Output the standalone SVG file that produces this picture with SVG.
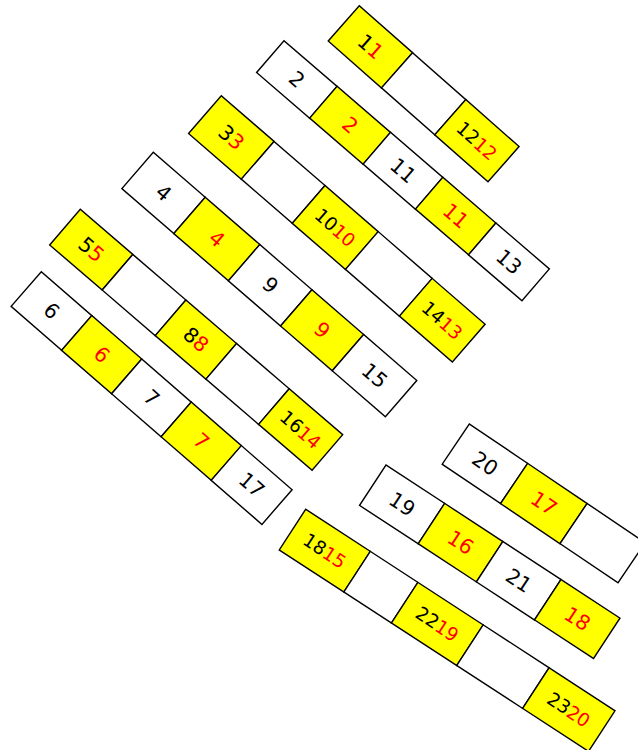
<svg xmlns="http://www.w3.org/2000/svg" width="638" height="750" viewBox="0 0 638 750">
<style>
.w{fill:#ffffff;stroke:#000000;stroke-width:1.4}
.y{fill:#ffff00;stroke:#000000;stroke-width:1.4}
.t{font-family:"DejaVu Sans",sans-serif;font-size:20.5px;text-anchor:middle;dominant-baseline:central;fill:#000000}
.s{font-size:18.5px}
.r{fill:#ff0000}
</style>
<rect width="638" height="750" fill="#ffffff"/>
<g id="strip-a" transform="translate(359.3 5.7) rotate(41.4)">
<g id="a1"><rect class="y" x="0" y="0" width="71" height="47"/><text class="t" x="35.5" y="23.5">1<tspan class="r">1</tspan></text></g>
<g id="a2"><rect class="w" x="71" y="0" width="71" height="47"/></g>
<g id="a3"><rect class="y" x="142" y="0" width="71" height="47"/><text class="t s" x="177.5" y="23.5">12<tspan class="r">12</tspan></text></g>
</g>
<g id="strip-b" transform="translate(284 40.7) rotate(40.7)">
<g id="b1"><rect class="w" x="0" y="0" width="70" height="42"/><text class="t" x="35" y="21">2</text></g>
<g id="b2"><rect class="y" x="70" y="0" width="70.5" height="42"/><text class="t r" x="105.25" y="21">2</text></g>
<g id="b3"><rect class="w" x="140.5" y="0" width="69" height="42"/><text class="t" x="175" y="21">11</text></g>
<g id="b4"><rect class="y" x="209.5" y="0" width="70" height="42"/><text class="t r" x="244.5" y="21">11</text></g>
<g id="b5"><rect class="w" x="279.5" y="0" width="70.5" height="42"/><text class="t" x="314.75" y="21">13</text></g>
</g>
<g id="strip-c" transform="translate(221.3 95.7) rotate(40.9)">
<g id="c1"><rect class="y" x="0" y="0" width="69.8" height="50"/><text class="t" x="34.9" y="25">3<tspan class="r">3</tspan></text></g>
<g id="c2"><rect class="w" x="69.8" y="0" width="67.4" height="50"/></g>
<g id="c3"><rect class="y" x="137.2" y="0" width="70.4" height="50"/><text class="t s" x="172.4" y="25">10<tspan class="r">10</tspan></text></g>
<g id="c4"><rect class="w" x="207.6" y="0" width="71.4" height="50"/></g>
<g id="c5"><rect class="y" x="279" y="0" width="70" height="50"/><text class="t s" x="314" y="25">14<tspan class="r">13</tspan></text></g>
</g>
<g id="strip-d" transform="translate(153.3 152.3) rotate(40.9)">
<g id="d1"><rect class="w" x="0" y="0" width="68.7" height="48"/><text class="t" x="34.35" y="24">4</text></g>
<g id="d2"><rect class="y" x="68.7" y="0" width="72.2" height="48"/><text class="t r" x="104.8" y="24">4</text></g>
<g id="d3"><rect class="w" x="140.9" y="0" width="69" height="48"/><text class="t" x="175.4" y="24">9</text></g>
<g id="d4"><rect class="y" x="209.9" y="0" width="68.4" height="48"/><text class="t r" x="244.1" y="24">9</text></g>
<g id="d5"><rect class="w" x="278.3" y="0" width="70.3" height="48"/><text class="t" x="313.45" y="24">15</text></g>
</g>
<g id="strip-e" transform="translate(80.3 209.3) rotate(40.66)">
<g id="e1"><rect class="y" x="0" y="0" width="69.2" height="47"/><text class="t" x="34.6" y="23.5">5<tspan class="r">5</tspan></text></g>
<g id="e2"><rect class="w" x="69.2" y="0" width="70" height="47"/></g>
<g id="e3"><rect class="y" x="139.2" y="0" width="66.8" height="47"/><text class="t" x="172.6" y="23.5">8<tspan class="r">8</tspan></text></g>
<g id="e4"><rect class="w" x="206" y="0" width="69.4" height="47"/></g>
<g id="e5"><rect class="y" x="275.4" y="0" width="70.5" height="47"/><text class="t s" x="310.65" y="23.5">16<tspan class="r">14</tspan></text></g>
</g>
<g id="strip-f" transform="translate(41.3 271.7) rotate(41)">
<g id="f1"><rect class="w" x="0" y="0" width="66.9" height="46"/><text class="t" x="33.45" y="23">6</text></g>
<g id="f2"><rect class="y" x="66.9" y="0" width="66.2" height="46"/><text class="t r" x="100" y="23">6</text></g>
<g id="f3"><rect class="w" x="133.1" y="0" width="65.6" height="46"/><text class="t" x="165.9" y="23">7</text></g>
<g id="f4"><rect class="y" x="198.7" y="0" width="66.4" height="46"/><text class="t r" x="231.9" y="23">7</text></g>
<g id="f5"><rect class="w" x="265.1" y="0" width="67.2" height="46"/><text class="t" x="298.7" y="23">17</text></g>
</g>
<g id="strip-g" transform="translate(469.3 424) rotate(34)">
<g id="g1"><rect class="w" x="0" y="0" width="70.4" height="48.5"/><text class="t" x="35.2" y="24.25">20</text></g>
<g id="g2"><rect class="y" x="70.4" y="0" width="71.7" height="48.5"/><text class="t r" x="106.25" y="24.25">17</text></g>
<g id="g3"><rect class="w" x="142.1" y="0" width="70" height="48.5"/></g>
</g>
<g id="strip-h" transform="translate(386 465) rotate(33.2)">
<g id="h1"><rect class="w" x="0" y="0" width="70.1" height="48.3"/><text class="t" x="35.05" y="24.15">19</text></g>
<g id="h2"><rect class="y" x="70.1" y="0" width="69.5" height="48.3"/><text class="t r" x="104.85" y="24.15">16</text></g>
<g id="h3"><rect class="w" x="139.6" y="0" width="69.5" height="48.3"/><text class="t" x="174.35" y="24.15">21</text></g>
<g id="h4"><rect class="y" x="209.1" y="0" width="70.5" height="48.3"/><text class="t r" x="244.35" y="24.15">18</text></g>
</g>
<g id="strip-i" transform="translate(305.7 509.3) rotate(33.07)">
<g id="i1"><rect class="y" x="0" y="0" width="77.1" height="48.5"/><text class="t s" x="38.55" y="24.25">18<tspan class="r">15</tspan></text></g>
<g id="i2"><rect class="w" x="77.1" y="0" width="56.8" height="48.5"/></g>
<g id="i3"><rect class="y" x="133.9" y="0" width="77.9" height="48.5"/><text class="t s" x="172.85" y="24.25">22<tspan class="r">19</tspan></text></g>
<g id="i4"><rect class="w" x="211.8" y="0" width="78.6" height="48.5"/></g>
<g id="i5"><rect class="y" x="290.4" y="0" width="78.7" height="48.5"/><text class="t s" x="329.75" y="24.25">23<tspan class="r">20</tspan></text></g>
</g>
<g id="connectors"/>
</svg>
